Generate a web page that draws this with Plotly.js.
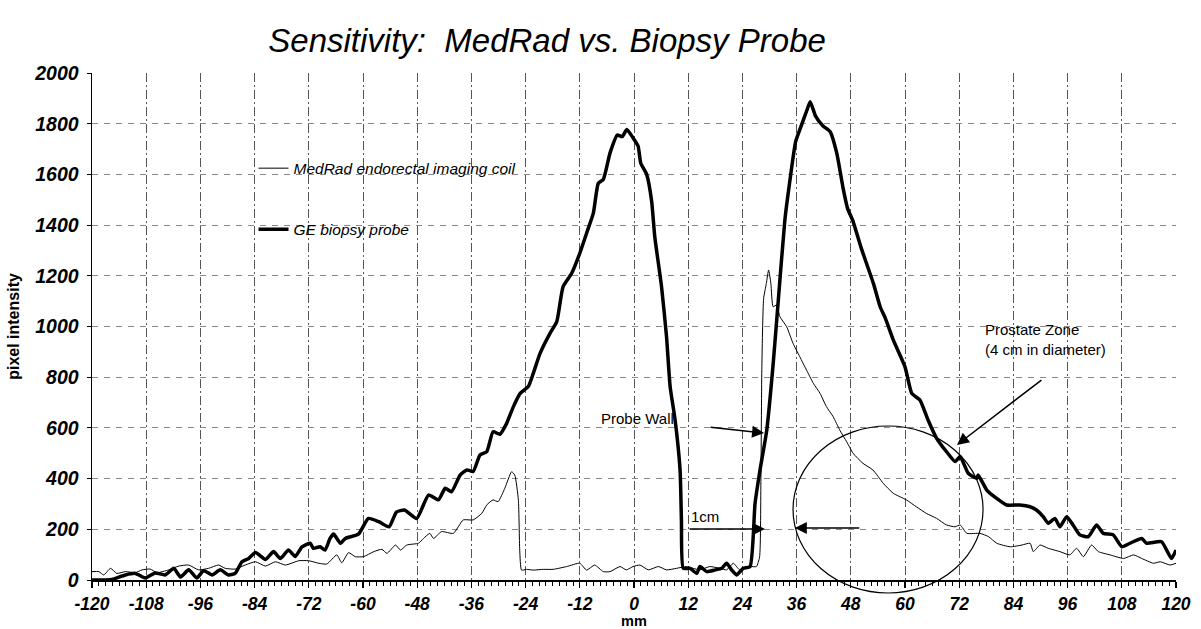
<!DOCTYPE html>
<html>
<head>
<meta charset="utf-8">
<script src="https://cdn.plot.ly/plotly-3.0.1.min.js"></script>
<style>html,body{margin:0;padding:0;background:#fff;}#chart{width:1201px;height:629px;}</style>
</head>
<body>
<div id="chart"></div>
<script>
// ---- data ----
const seriesNames = ["MedRad endorectal imaging coil", "GE biopsy probe"];

const medradX = [-120,-118.5,-117.4,-115.9,-114.5,-112.6,-110.4,-108.9,-107.1,-105.6,-103,-100.8,-98.6,-96.4,-94.2,-92,-90.5,-88.3,-86.1,-83.8,-81.6,-79.4,-77.2,-74.2,-72,-69.8,-68,-65.8,-64.7,-63.2,-61.7,-59.9,-57.6,-55.8,-54.7,-52.8,-51.7,-50.3,-47.7,-46.6,-45.2,-44.4,-42.6,-40,-37.8,-35.6,-33.7,-32.6,-31.2,-30.1,-28.6,-27.1,-26.4,-25.6,-25.3,-24.9,-23.8,-22.3,-20.1,-17.9,-14.9,-12,-10.5,-8.7,-6.8,-5.3,-3.1,-1.7,-0.2,1.3,3.2,5.4,7.2,9.4,11.6,13.1,14.6,16.8,19,20.5,22,23.4,25.7,27.1,27.8,28.1,28.3,28.7,29.3,29.8,30.3,30.8,31.6,32.3,33.8,35.2,36.7,38.2,39.7,41.2,42.6,44.1,45.6,47.1,48.5,50.7,52.9,55.2,57.4,60.3,62.5,64.7,67,69.2,71.1,72.2,73.7,76.6,78.5,80.3,83.3,85.9,87.7,88.4,89.9,91.7,94.3,96.5,98,99.5,101.3,102.8,105.4,108.4,110.6,112.4,115,116.5,118.7,120];
const medradY = [33,33,20,46,26,33,29,40,43,29,40,55,59,40,46,59,46,43,59,72,55,72,59,76,76,66,63,99,68,108,92,92,112,121,105,138,118,138,145,164,184,164,191,184,237,237,263,296,316,309,362,427,414,316,118,39,42,39,42,42,53,66,39,59,33,33,53,40,53,59,40,53,40,46,53,46,40,53,46,40,66,40,53,53,90,400,830,1110,1170,1223,1170,1078,1085,1039,999,934,881,828,776,736,684,644,590,545,500,460,434,381,342,316,289,263,243,217,210,217,184,184,171,145,131,138,145,112,138,125,112,99,125,92,138,112,99,85,99,85,66,72,59,66];

const geX = [-120,-117,-115.6,-112.6,-110.4,-108.2,-106,-103.8,-101.9,-100.4,-98.6,-96.8,-95.3,-93.4,-91.6,-89.8,-88.3,-86.8,-85.3,-83.8,-81.6,-79.8,-78.3,-76.5,-75,-73.5,-71.7,-71,-69.5,-68.4,-67.3,-66.5,-65,-63.9,-61,-58.8,-56.5,-54.2,-52.6,-50.8,-48.1,-45.5,-43.3,-41.8,-40.4,-38.5,-37,-35.6,-34.1,-32.6,-31.2,-29.7,-28.2,-26.7,-25.2,-23.4,-22.3,-20.8,-18.6,-17.1,-15.7,-13.8,-12,-10.5,-9,-7.9,-6.8,-5.3,-3.7,-2.6,-1.6,-0.2,0.9,1.5,2.8,3.9,4.6,6.1,7.2,8,9.1,10.2,10.5,10.9,12.4,13.9,14.6,16.1,18,19.4,20.5,21.6,22.7,24.2,25.7,26.8,27.9,29.4,30.8,31.9,33.4,34.4,35.8,37.2,38.3,39,40.2,41.8,43.4,44.9,46.3,47.3,48.5,50.2,53,54.5,55.7,57.4,60,61.5,63.3,65.1,67,69.2,71.1,72.2,74,75.9,76.2,78.1,80.3,82.5,85.4,87.7,89.1,90.6,91.7,93.2,94.3,95.8,97.2,98.7,100.6,102.4,103.9,106.1,108,109.8,112.4,113.5,116.8,119,120];
const geY = [0,0,2,20,26,8,28,20,46,12,40,8,37,20,40,20,26,72,85,108,81,112,85,118,93,131,145,125,131,118,164,181,145,164,181,243,230,210,268,276,243,335,316,362,348,414,434,428,493,506,585,575,618,684,736,763,815,894,973,1019,1157,1210,1289,1368,1447,1565,1580,1685,1755,1749,1777,1744,1712,1644,1600,1495,1354,1157,960,763,631,434,237,46,46,26,53,33,40,46,66,40,20,46,53,302,434,592,850,1092,1420,1560,1730,1800,1854,1887,1830,1792,1769,1683,1545,1465,1415,1315,1170,1078,1030,947,841,736,710,631,559,506,467,487,421,401,414,355,322,296,296,289,276,250,224,243,210,250,217,178,171,217,184,178,131,145,164,145,151,85,118];

const xTickVals = [-120,-108,-96,-84,-72,-60,-48,-36,-24,-12,0,12,24,36,48,60,72,84,96,108,120];
const yTickVals = [0,200,400,600,800,1000,1200,1400,1600,1800,2000];

// ---- chart ----
const FAM = "Liberation Sans, Arial, sans-serif";
const tickFontX = {family: FAM, size: 17.5, weight: "bold", style: "italic", color: "#000"};
const tickFontY = {family: FAM, size: 19.5, weight: "bold", style: "italic", color: "#000"};
const annFont = {family: FAM, size: 15, color: "#000"};

const traces = [
  {x: medradX, y: medradY, name: seriesNames[0], type: "scatter", mode: "lines",
   line: {color: "#000", width: 1, shape: "spline", smoothing: 0.5}, legendgroup: "a"},
  {x: geX, y: geY, name: seriesNames[1], type: "scatter", mode: "lines",
   line: {color: "#000", width: 3.5, shape: "spline", smoothing: 0.5}, legendgroup: "b"}
];

const layout = {
  width: 1201, height: 629,
  paper_bgcolor: "#fff", plot_bgcolor: "#fff",
  margin: {l: 92, r: 25, t: 73, b: 49},
  title: {text: "Sensitivity:\u00a0 MedRad vs. Biopsy Probe", x: 0.4555, xref: "container", xanchor: "center",
          y: 0.935, yref: "container", yanchor: "middle",
          font: {family: FAM, size: 33, style: "italic", color: "#000"}},
  showlegend: true,
  legend: {x: 0.149, y: 0.845, xanchor: "left", yanchor: "top", bgcolor: "rgba(0,0,0,0)",
           tracegroupgap: 38, traceorder: "grouped",
           font: {family: FAM, size: 15.5, style: "italic", color: "#000"}},
  xaxis: {range: [-120, 120], tickmode: "array", tickvals: xTickVals, ticktext: xTickVals.map(String),
          showline: true, linecolor: "#000", linewidth: 1.5, ticks: "outside", ticklen: 6, tickcolor: "#000", tickwidth: 1.2,
          ticklabelstandoff: 1,
          showgrid: true, gridcolor: "#555", gridwidth: 1, griddash: "9px,3px,2px,3px", zeroline: false,
          minor: {dtick: 1.5, tick0: 0, ticks: "outside", ticklen: 4, tickcolor: "#000", tickwidth: 1, showgrid: false},
          tickfont: tickFontX,
          title: {text: "mm", standoff: 1, font: {family: FAM, size: 14.5, weight: "bold", color: "#000"}}},
  yaxis: {range: [0, 2000], tickmode: "array", tickvals: yTickVals, ticktext: yTickVals.map(String),
          showline: true, linecolor: "#000", linewidth: 1.5, ticks: "outside", ticklen: 4, tickcolor: "#000",
          ticklabelstandoff: 4,
          showgrid: true, gridcolor: "#888", gridwidth: 1, griddash: "6px,6px", zeroline: false,
          tickfont: tickFontY,
          title: {text: "pixel intensity", standoff: 10, font: {family: FAM, size: 16, weight: "bold", color: "#000"}}},
  shapes: [
    {type: "circle", xref: "paper", yref: "paper", x0: 0.6467, x1: 0.8220, y0: -0.0256, y1: 0.3037,
     line: {color: "#000", width: 1.2}, layer: "above"}
  ],
  annotations: [
    {text: "Probe Wall", x: -7.8, y: 639, xref: "x", yref: "y", xanchor: "left", yanchor: "middle", showarrow: false, font: annFont},
    {text: "", x: 28.8, y: 580, xref: "x", yref: "y", ax: -55, ay: -6, showarrow: true, arrowhead: 2, arrowsize: 1.6, arrowwidth: 1.5, arrowcolor: "#000"},
    {text: "1cm", x: 12.2, y: 249, xref: "x", yref: "y", xanchor: "left", yanchor: "middle", showarrow: false, font: annFont},
    {text: "", x: 29.0, y: 201, xref: "x", yref: "y", ax: -77, ay: 0, showarrow: true, arrowhead: 2, arrowsize: 1.6, arrowwidth: 1.5, arrowcolor: "#000"},
    {text: "", x: 35.6, y: 205, xref: "x", yref: "y", ax: 66, ay: 0, showarrow: true, arrowhead: 2, arrowsize: 1.6, arrowwidth: 1.5, arrowcolor: "#000"},
    {text: "Prostate Zone", x: 77.3, y: 990, xref: "x", yref: "y", xanchor: "left", yanchor: "middle", showarrow: false, font: annFont},
    {text: "(4 cm in diameter)", x: 77.3, y: 911, xref: "x", yref: "y", xanchor: "left", yanchor: "middle", showarrow: false, font: annFont},
    {text: "", x: 71.5, y: 533, xref: "x", yref: "y", ax: 86, ay: -66, showarrow: true, arrowhead: 2, arrowsize: 1.6, arrowwidth: 1.5, arrowcolor: "#000"}
  ]
};

Plotly.newPlot("chart", traces, layout, {displayModeBar: false, staticPlot: true});
</script>
</body>
</html>
